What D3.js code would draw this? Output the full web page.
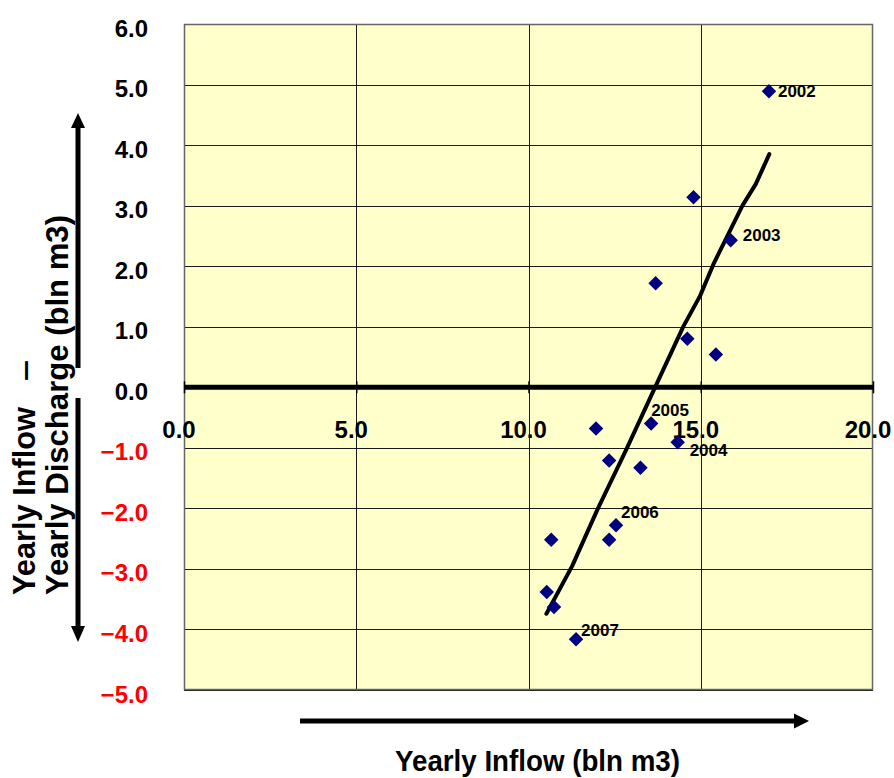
<!DOCTYPE html>
<html><head><meta charset="utf-8">
<script src="https://cdn.jsdelivr.net/npm/d3@7"></script>
<style>
body{margin:0;background:#fff}
svg{display:block}
text{font-family:"Liberation Sans",Arial,sans-serif;font-weight:bold}
</style>
</head><body>
<svg id="c" width="894" height="778"></svg>
<script>
// ---- data ----
const inflow  = [16.98, 14.79, 15.87, 13.69, 14.61, 15.44, 13.56, 11.96, 14.33, 12.34, 13.25, 12.54, 12.34, 10.66, 10.53, 10.74, 11.38];
const balance = [ 4.89,  3.14,  2.43,  1.72,  0.80,  0.54, -0.60, -0.68, -0.91, -1.21, -1.33, -2.28, -2.52, -2.52, -3.38, -3.63, -4.16];
const pointLabels = ["2002", "", "2003", "", "", "", "2005", "", "2004", "", "", "2006", "", "", "", "", "2007"];
const trendX = [10.52, 11.27, 12.00, 12.82, 13.69, 14.50, 14.98, 15.39, 16.21, 16.60, 16.99];
const trendY = [-3.74, -2.95, -2.02, -1.05, 0.02, 1.01, 1.51, 2.06, 3.00, 3.36, 3.85];
const xTicks = [0, 5, 10, 15, 20];
const yTicks = [6, 5, 4, 3, 2, 1, 0, -1, -2, -3, -4, -5];
const xTitle = "Yearly Inflow (bln m3)";
const yTitle1 = "Yearly Inflow";
const yTitle2 = "Yearly Discharge (bln m3)";

// ---- layout ----
const L = 184, R = 873, T = 24, B = 690;
const x = d3.scaleLinear().domain([0, 20]).range([L, R]);
const y = d3.scaleLinear().domain([-5, 6]).range([B, T]);
const fmt = d3.format(".1f");
const labelOffset = {"2002": [9, 6], "2003": [12, 1], "2005": [0, -8], "2004": [12, 14], "2006": [5, -7], "2007": [5, -3]};

const svg = d3.select("#c");

// plot background
svg.append("rect").attr("x", L).attr("y", T).attr("width", R - L).attr("height", B - T)
  .attr("fill", "#FFFFCC");

// gridlines
svg.append("g").selectAll("line").data(yTicks).join("line")
  .attr("x1", L).attr("x2", R).attr("y1", d => Math.round(y(d)) + 0.5).attr("y2", d => Math.round(y(d)) + 0.5)
  .attr("stroke", "#1a1a1a").attr("stroke-width", 1);
svg.append("g").selectAll("line").data(xTicks.slice(1, -1)).join("line")
  .attr("y1", T).attr("y2", B).attr("x1", d => Math.round(x(d)) + 0.5).attr("x2", d => Math.round(x(d)) + 0.5)
  .attr("stroke", "#1a1a1a").attr("stroke-width", 1);

// border
svg.append("rect").attr("x", L + 0.5).attr("y", T + 0.5).attr("width", R - L - 1).attr("height", B - T - 1)
  .attr("fill", "none").attr("stroke", "#666").attr("stroke-width", 1.5);

// x axis at zero (ticks crossing)
const xAxis = d3.axisBottom(x).tickValues(xTicks).tickSize(12).tickFormat("");
svg.append("g").attr("transform", `translate(0,${y(0) - 6})`).call(xAxis)
  .call(g => g.select(".domain").remove())
  .call(g => g.selectAll(".tick line").attr("stroke", "#000").attr("stroke-width", 1.5));
svg.append("line").attr("x1", L).attr("x2", R).attr("y1", y(0)).attr("y2", y(0))
  .attr("stroke", "#000").attr("stroke-width", 5);

// x tick labels
svg.append("g").selectAll("text").data(xTicks).join("text")
  .attr("x", d => x(d) - 5).attr("y", y(0) + 51)
  .attr("text-anchor", "middle").attr("font-size", 24).attr("fill", "#000")
  .text(d => fmt(d));

// y tick labels
svg.append("g").selectAll("text").data(yTicks).join("text")
  .attr("x", 148).attr("y", d => y(d) + 12.5)
  .attr("text-anchor", "end").attr("font-size", 24)
  .attr("fill", d => d < 0 ? "#FF0000" : "#000")
  .text(d => fmt(d));

// trend line
const line = d3.line().x(d => x(d[0])).y(d => y(d[1]));
svg.append("path").datum(trendX.map((v, i) => [v, trendY[i]]))
  .attr("d", line).attr("fill", "none").attr("stroke", "#000").attr("stroke-width", 4)
  .attr("stroke-linejoin", "round").attr("stroke-linecap", "round");

// points
const pts = inflow.map((v, i) => ({x: v, y: balance[i], label: pointLabels[i]}));
svg.append("g").selectAll("path").data(pts).join("path")
  .attr("d", d3.symbol(d3.symbolSquare, 105))
  .attr("transform", d => `translate(${x(d.x)},${y(d.y)}) rotate(45)`)
  .attr("fill", "#000080");

// point labels
svg.append("g").selectAll("text").data(pts.filter(d => d.label)).join("text")
  .attr("x", d => x(d.x) + labelOffset[d.label][0])
  .attr("y", d => y(d.y) + labelOffset[d.label][1])
  .attr("font-size", 17).attr("fill", "#000")
  .text(d => d.label);

// x title + arrow
svg.append("line").attr("x1", 300).attr("x2", 796).attr("y1", 721).attr("y2", 721)
  .attr("stroke", "#000").attr("stroke-width", 5);
svg.append("path").attr("d", "M794,713.5 L809,721 L794,728.5 Z").attr("fill", "#000");
svg.append("text").attr("x", 395).attr("y", 771).attr("font-size", 29)
  .attr("textLength", 285).attr("lengthAdjust", "spacingAndGlyphs").text(xTitle);

// y title (two rotated lines)
svg.append("text").attr("transform", "translate(35,595) rotate(-90)")
  .attr("font-size", 30.5).attr("textLength", 188).attr("lengthAdjust", "spacingAndGlyphs").text(yTitle1);
svg.append("text").attr("transform", "translate(35,381) rotate(-90)")
  .attr("font-size", 30).attr("textLength", 21).attr("lengthAdjust", "spacingAndGlyphs").text("–");
svg.append("text").attr("transform", "translate(68,595) rotate(-90)")
  .attr("font-size", 30.5).attr("textLength", 380).attr("lengthAdjust", "spacingAndGlyphs").text(yTitle2);

// vertical arrows
svg.append("line").attr("x1", 78).attr("x2", 78).attr("y1", 368).attr("y2", 126)
  .attr("stroke", "#000").attr("stroke-width", 5);
svg.append("path").attr("d", "M71,128 L78,113 L85,128 Z").attr("fill", "#000");
svg.append("line").attr("x1", 78).attr("x2", 78).attr("y1", 398).attr("y2", 628)
  .attr("stroke", "#000").attr("stroke-width", 5);
svg.append("path").attr("d", "M71,626 L78,642 L85,626 Z").attr("fill", "#000");
</script>
</body></html>
